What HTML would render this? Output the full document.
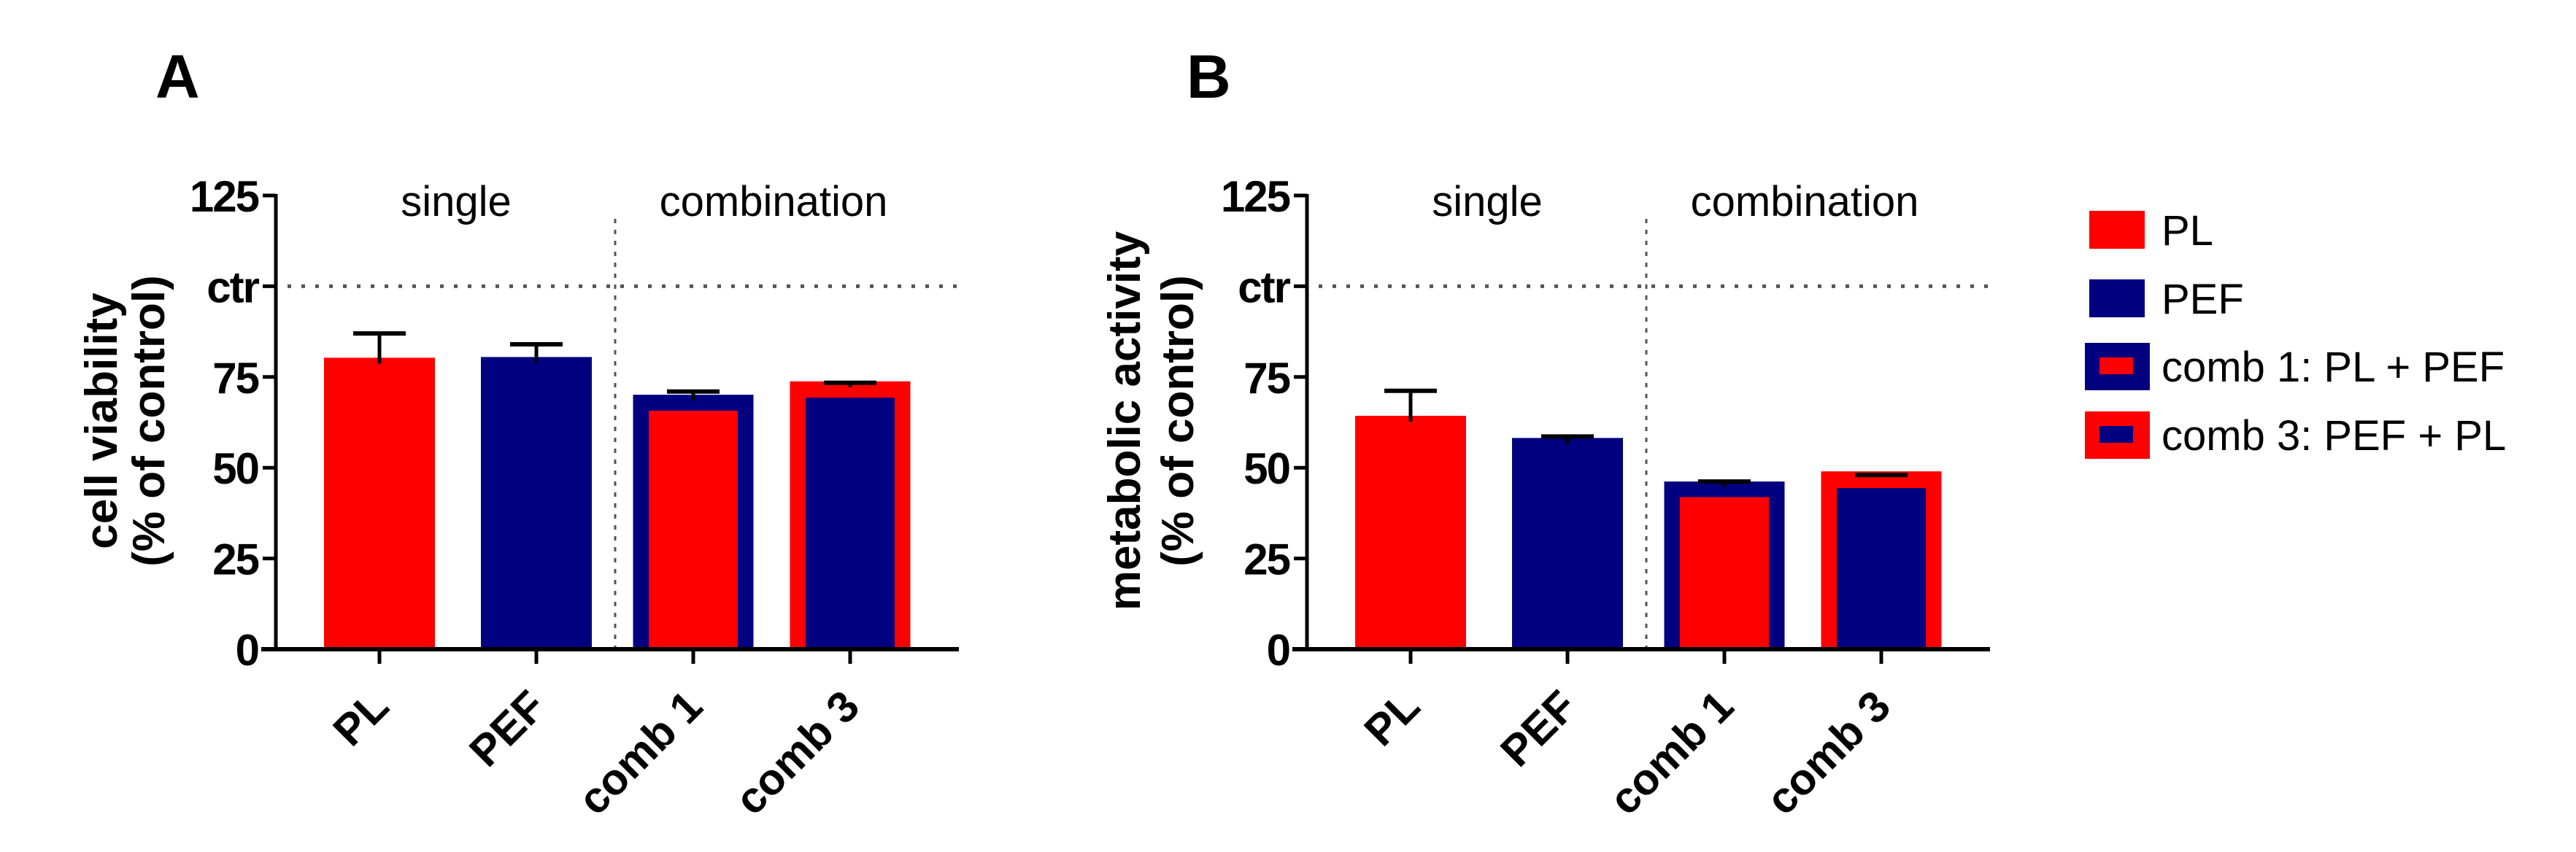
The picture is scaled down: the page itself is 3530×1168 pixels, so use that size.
<!DOCTYPE html>
<html><head><meta charset="utf-8"><style>
html,body{margin:0;padding:0;background:#fff;}
svg{display:block;font-family:"Liberation Sans",Arial,sans-serif;}
</style></head><body>
<svg id="fig" width="3530" height="1168" viewBox="0 0 3530 1168" xmlns="http://www.w3.org/2000/svg"></svg>
<script>
const categories = ["PL", "PEF", "comb 1", "comb 3"];
const viabilityOuter = [80.3, 80.5, 70.1, 73.8];
const viabilityInner = [null, null, 65.7, 69.3];
const viabilityErr = [87, 84, 71, 73.4];
const metabolicOuter = [64.3, 58.2, 46.2, 49];
const metabolicInner = [null, null, 41.9, 44.4];
const metabolicErr = [71.2, 58.6, 46.2, 48];
const tickValues = [0, 25, 50, 75, 100, 125];
const tickLabels = ["0", "25", "50", "75", "ctr", "125"];
const legendLabels = ["PL", "PEF", "comb 1: PL + PEF", "comb 3: PEF + PL"];

const RED = "#ff0000", BLUE = "#000080";
const outerColors = [RED, BLUE, BLUE, RED];
const innerColors = [null, null, RED, BLUE];
const NS = "http://www.w3.org/2000/svg";
const svg = document.getElementById("fig");
function mk(tag, attrs, parent, text) {
  const e = document.createElementNS(NS, tag);
  for (const k in attrs) e.setAttribute(k, attrs[k]);
  if (text !== undefined) e.textContent = text;
  (parent || svg).appendChild(e);
  return e;
}

function panel(ox, letter, titleLines, outer, inner, err, key, titleOff) {
  const g = mk("g", {});
  
  
  const axX = ox + 378, y0 = 890, yTop = 268, axEnd = ox + 1314;
  const y = v => y0 - (v / 125) * (y0 - yTop);
  const xc = i => ox + 520 + i * 215;

  const L = mk("text", {x: ox + 213, y: 134, "font-size": 84, "font-weight": "bold"}, g, letter);
  
  

  const s1 = mk("text", {x: ox + 625, y: 296, "font-size": 58, "text-anchor": "middle"}, g, "single");
  
  
  const s2 = mk("text", {x: ox + 1060, y: 296, "font-size": 58, "text-anchor": "middle"}, g, "combination");
  
  

  const hl = mk("line", {x1: axX + 16, x2: axEnd, y1: y(100), y2: y(100), stroke: "#555", "stroke-width": 5, "stroke-dasharray": "5 14"}, g);
  
  
  const vl = mk("line", {x1: ox + 843, x2: ox + 843, y1: 300, y2: y0, stroke: "#555", "stroke-width": 3, "stroke-dasharray": "6 9"}, g);
  
  

  categories.forEach((c, i) => {
    const w = inner[i] == null ? 152 : 165;
    const b = mk("rect", {x: xc(i) - w / 2, y: y(outer[i]), width: w, height: y0 - y(outer[i]), fill: outerColors[i]}, g);
    
    
    if (inner[i] != null) {
      const iw = 122;
      const ib = mk("rect", {x: xc(i) - iw / 2, y: y(inner[i]), width: iw, height: y0 - y(inner[i]), fill: innerColors[i]}, g);
      
      
    }
    const e1 = mk("line", {x1: xc(i), x2: xc(i), y1: y(outer[i]) + 8, y2: y(err[i]), stroke: "#000", "stroke-width": 5}, g);
    
    
    const e2 = mk("line", {x1: xc(i) - 36, x2: xc(i) + 36, y1: y(err[i]), y2: y(err[i]), stroke: "#000", "stroke-width": 6}, g);
    
    
    const tk = mk("line", {x1: xc(i), x2: xc(i), y1: y0, y2: y0 + 20, stroke: "#000", "stroke-width": 5}, g);
    
    
    const tx = xc(i) + 16, ty = 972;
    const lab = mk("text", {x: tx, y: ty, "font-size": 60, "font-weight": "bold", "text-anchor": "end", transform: `rotate(-45 ${tx} ${ty})`}, g, c);
    
    
  });

  const ya = mk("line", {x1: axX, x2: axX, y1: yTop - 2, y2: y0 + 2, stroke: "#000", "stroke-width": 5}, g);
  
  
  const xa = mk("line", {x1: axX - 20, x2: axEnd, y1: y0, y2: y0, stroke: "#000", "stroke-width": 6}, g);
  
  
  tickValues.forEach((v, i) => {
    const t = mk("line", {x1: axX - 18, x2: axX, y1: y(v), y2: y(v), stroke: "#000", "stroke-width": 5}, g);
    
    
    const tl = mk("text", {x: axX - 24, y: y(v) + 22, "font-size": 60, "font-weight": "bold", "text-anchor": "end", "letter-spacing": "-2"}, g, tickLabels[i]);
    
    
  });

  const cy = 577;
  titleLines.forEach((t, j) => {
    const bx = axX - titleOff[j];
    const tt = mk("text", {x: bx, y: cy, "font-size": 62, "font-weight": "bold", "text-anchor": "middle", transform: `rotate(-90 ${bx} ${cy})`}, g, t);
    
    
  });
}

panel(0, "A", ["cell viability", "(% of control)"], viabilityOuter, viabilityInner, viabilityErr, "a", [218, 153]);
panel(1413, "B", ["metabolic activity", "(% of control)"], metabolicOuter, metabolicInner, metabolicErr, "b", [229, 156]);

const lg = mk("g", {});


const rowsY = [315, 409, 502, 596];
legendLabels.forEach((t, i) => {
  const cy = rowsY[i];
  if (i < 2) {
    const r = mk("rect", {x: 2863, y: cy - 26, width: 76, height: 52, fill: i === 0 ? RED : BLUE}, lg);
    
    
  } else {
    const r = mk("rect", {x: 2857, y: cy - 32, width: 89, height: 65, fill: i === 2 ? BLUE : RED}, lg);
    
    
    const r2 = mk("rect", {x: 2877, y: cy - 12, width: 46, height: 23, fill: i === 2 ? RED : BLUE}, lg);
    
    
  }
  const tx = mk("text", {x: 2962, y: cy + 21, "font-size": 58}, lg, t);
  
  
});
</script>
</body></html>
